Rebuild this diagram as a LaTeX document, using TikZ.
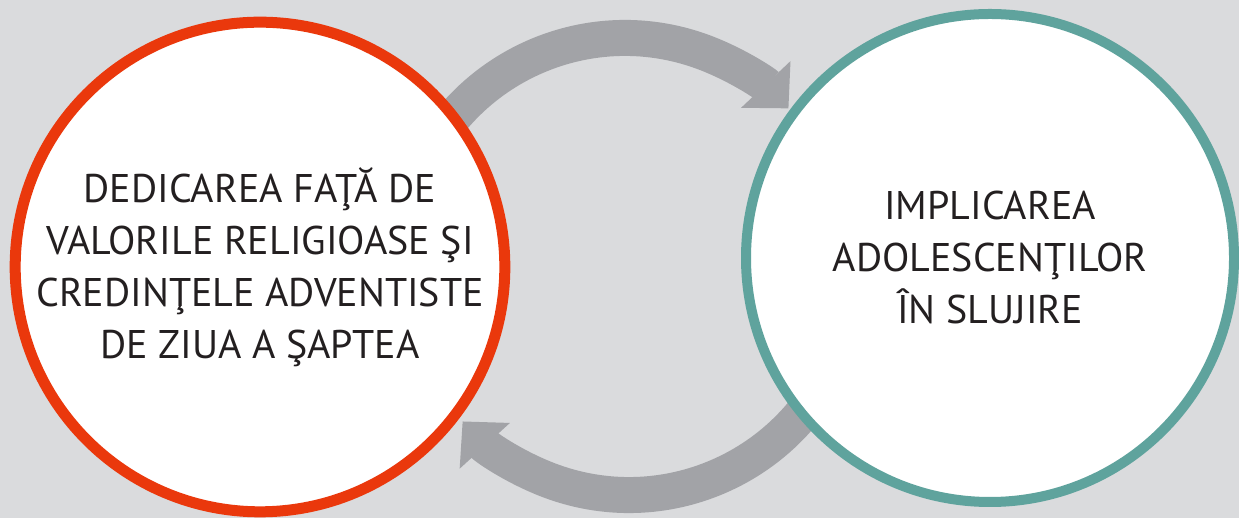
\documentclass[tikz,border=0pt]{standalone}
\usepackage{fontspec}
\setmainfont{PT Sans}
\usetikzlibrary{arrows.meta}
\definecolor{bggray}{RGB}{218,219,221}
\definecolor{ringred}{RGB}{234,56,12}
\definecolor{ringteal}{RGB}{95,163,157}
\definecolor{arcgray}{RGB}{162,163,167}
\definecolor{txtdark}{RGB}{35,31,32}
\tikzset{
  ring/.style={circle, fill=white, text=txtdark, align=center, inner sep=0pt,
    font=\fontsize{40}{52}\selectfont},
  cyclearrow/.style={arcgray, line width=36pt, -{Triangle[width=66pt,length=33pt]}}
}

\begin{document}
\begin{tikzpicture}[x=1pt,y=1pt]
  \fill[bggray] (0,0) rectangle (1239,518);
  \useasboundingbox (0,0) rectangle (1239,518);
  \coordinate (tophub) at (625,255);
  \coordinate (bothub) at (629,248);
  % the two arrows pass under the rings
  \draw[cyclearrow] ([shift={(160:225)}]tophub) arc[start angle=160, end angle=43.4, radius=225pt];
  \draw[cyclearrow] ([shift={(-20:225)}]bothub) arc[start angle=-20, end angle=-137.7, radius=225pt];
  \node (ded) [ring, draw=ringred, line width=11pt, minimum size=489pt] at (260,251)
    {DEDICAREA FAŢĂ DE\\VALORILE RELIGIOASE ŞI\\CREDINŢELE ADVENTISTE\\DE ZIUA A ŞAPTEA};
  \node (impl) [ring, draw=ringteal, line width=10pt, minimum size=488pt] at (990,260)
    {IMPLICAREA\\ADOLESCENŢILOR\\ÎN SLUJIRE};
\end{tikzpicture}
\end{document}
